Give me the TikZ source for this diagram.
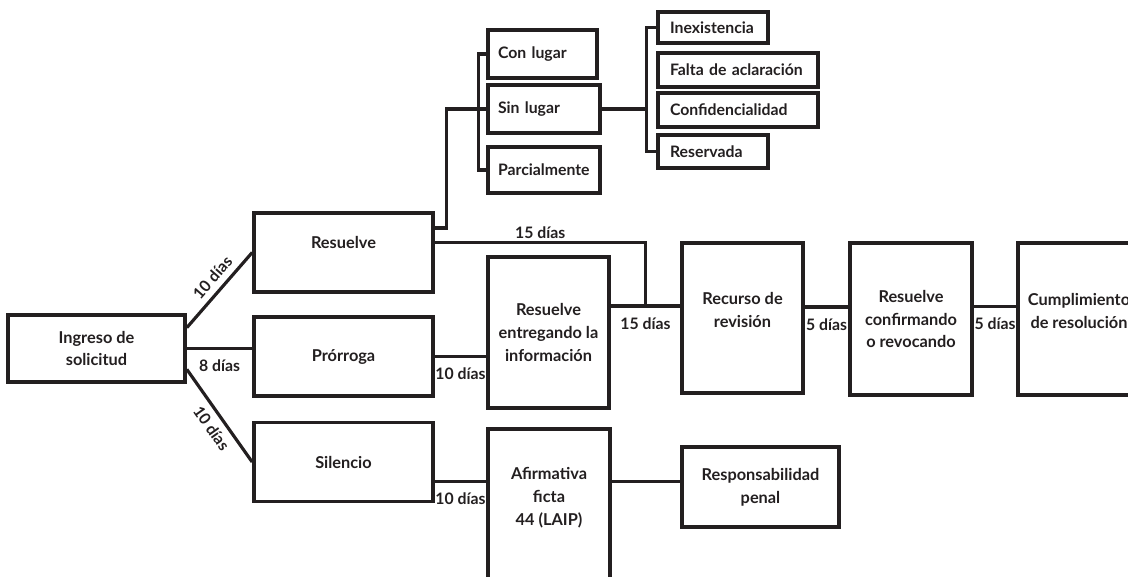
\documentclass[tikz,border=0pt]{standalone}
\usepackage{fontspec}
\setmainfont{Lato}
\usepackage{tikz}
\usetikzlibrary{calc}
\definecolor{boxLine}{HTML}{231F20}
\tikzset{
  stagebox/.style 2 args={rectangle, draw=boxLine, line width=2.1pt, align=center, font=\bfseries\fontsize{9.3}{13}\selectfont, text=boxLine, minimum width=#1, minimum height=#2, inner sep=2pt},
  optionbox/.style 2 args={rectangle, draw=boxLine, line width=2.1pt, align=left, font=\bfseries\fontsize{9}{11}\selectfont, text=boxLine, text width=#1, minimum height=#2, inner ysep=2pt},
  boxtext/.style={font=\bfseries\fontsize{9.3}{13}\selectfont, text=boxLine, align=center, inner sep=0pt},
  linkline/.style={line width=1.8pt, draw=boxLine},
  daylabel/.style={font=\bfseries\fontsize{9}{11}\selectfont, text=boxLine, inner sep=1.5pt},
}
\begin{document}
\begin{tikzpicture}[x=0.02cm,y=-0.02cm]
  \useasboundingbox (0,0) rectangle (1128,576);

  % ---------- main stages ----------
  \node[stagebox={3.54cm}{1.34cm}] (ingreso)  at (96.5,348.5) {Ingreso de\\solicitud};
  \node[stagebox={3.58cm}{1.58cm}, text depth=0.4cm] (resuelve) at (343.5,252.5) {Resuelve};
  \node[stagebox={3.58cm}{1.58cm}] (prorroga) at (343.5,356.5) {Prórroga};
  \node[stagebox={3.58cm}{1.58cm}] (silencio) at (343.5,462) {Silencio};

  \node[stagebox={2.42cm}{3.02cm}] (entrega)  at (548.5,332.5) {Resuelve\\entregando la\\información};
  \node[stagebox={2.42cm}{3.0cm}]  (recurso)  at (742.5,318) {Recurso de\\revisión\\[-4pt]};
  \node[stagebox={2.44cm}{3.04cm}] (confirma) at (911,319) {Resuelve\\confirmando\\o revocando};
  \node[stagebox={2.44cm}{3.04cm}] (cumple)   at (1079,319) {Cumplimiento\\de resolución\\[-4pt]};

  \node[stagebox={2.44cm}{3.46cm}, anchor=north] (afirm) at (549,427) {};
  \node[boxtext] (afirmtext) at (549,498) {Afirmativa\\ficta\\44 (LAIP)};
  \node[stagebox={3.14cm}{1.6cm}] (respons) at (760.5,487) {Responsabilidad\\penal};

  % ---------- resolution options ----------
  \node[optionbox={1.78cm}{0.96cm}, inner xsep=0.2cm] (conlugar) at (542.5,54)  {Con lugar};
  \node[optionbox={1.84cm}{0.96cm}, inner xsep=0.2cm] (sinlugar) at (544,109)   {Sin lugar};
  \node[optionbox={1.84cm}{0.92cm}, inner xsep=0.2cm] (parcial)  at (544,170)   {Parcialmente};

  \node[optionbox={1.72cm}{0.62cm}, inner xsep=0.24cm] (inexist) at (713,27.5)  {Inexistencia};
  \node[optionbox={2.72cm}{0.68cm}, inner xsep=0.24cm] (falta)   at (738,70)    {Falta de aclaración};
  \node[optionbox={2.72cm}{0.68cm}, inner xsep=0.24cm] (confid)  at (738,110)   {Confidencialidad};
  \node[optionbox={1.72cm}{0.66cm}, inner xsep=0.24cm] (reserv)  at (713,151.5) {Reservada};

  % ---------- from the request ----------
  \draw[linkline] (ingreso.13) -- node[daylabel, sloped, above=2pt, pos=0.55] {10 días} (resuelve.west);
  \draw[linkline] (ingreso.east) -- node[daylabel, below=4pt] {8 días} (ingreso.east -| prorroga.west);
  \draw[linkline] (ingreso.-13) -- node[daylabel, sloped, below=2pt, pos=0.55] {10 días} (silencio.west);

  % ---------- options brackets ----------
  \draw[linkline] (resuelve.15) -- ++(12,0) |- (sinlugar.west);
  \draw[linkline] (conlugar.west) -- ++(-8,0) |- (parcial.west);
  \coordinate (rbracket) at ($(inexist.west)+(-10,0)$);
  \draw[linkline] (sinlugar.east) -- (sinlugar.east -| rbracket);
  \draw[linkline] (inexist.west) -- (rbracket) |- (reserv.west);

  % ---------- review chain ----------
  \draw[linkline] (prorroga.east) -- node[daylabel, below=4pt] {10 días} (prorroga.east -| entrega.west);
  \draw[linkline] (entrega.23) -- coordinate[midway] (j15) node[daylabel, below=4pt, midway] {15 días} (entrega.23 -| recurso.west);
  \draw[linkline] (resuelve.6) -| node[daylabel, above, pos=0.25] {15 días} (j15);
  \draw[linkline] (recurso.10) -- node[daylabel, below=4pt] {5 días} (recurso.10 -| confirma.west);
  \draw[linkline] (confirma.11) -- node[daylabel, below=4pt] {5 días} (confirma.11 -| cumple.west);

  % ---------- silence ----------
  \draw[linkline] (silencio.-12) -- node[daylabel, below=4pt] {10 días} (silencio.-12 -| afirm.west);
  \draw[linkline] (afirm.east |- respons.176) -- (respons.176);

\end{tikzpicture}
\end{document}
